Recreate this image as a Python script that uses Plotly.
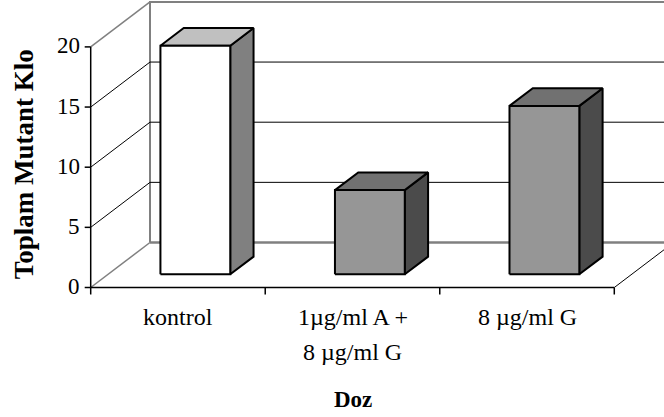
import plotly.graph_objects as go

# ---- data ----
categories = ["kontrol", "1µg/ml A +<br>8 µg/ml G", "8 µg/ml G"]
mutant_colonies = [19, 7, 14]
y_ticks = [0, 5, 10, 15, 20]
x_title = "Doz"
y_title = "Toplam Mutant Klo"

# face colours per bar: front, top, right side
front_colors = ["#FFFFFF", "#969696", "#969696"]
top_colors = ["#C0C0C0", "#717171", "#717171"]
side_colors = ["#808080", "#4B4B4B", "#4B4B4B"]

# ---- oblique 3-D geometry (in axis units) ----
W, H = 664, 417
X_PX0, X_PX_PER = 90.7, 174.53      # left front corner, pixels per category
Y_PX0, Y_PX_PER = 287.5, 12.03      # value 0 line, pixels per unit
DX, DY = 59.3 / X_PX_PER, 45.0 / Y_PX_PER   # depth offset of the back wall
BAR_W = 0.40                         # bar width (category units)
Z0, ZD = 0.293, 0.393                # bar front depth, bar depth (fractions)
YMAX = y_ticks[-1]

n = len(categories)
XL, XR = -0.5, n - 0.5
x_range = [XL - X_PX0 / X_PX_PER, XL - X_PX0 / X_PX_PER + W / X_PX_PER]
y_range = [-(H - Y_PX0) / Y_PX_PER, Y_PX0 / Y_PX_PER]

FONT = "Liberation Serif, Times New Roman, serif"
GRAY = "#808080"

fig = go.Figure()


def line(xs, ys, color="black", width=1.0):
    fig.add_trace(go.Scatter(x=xs, y=ys, mode="lines", hoverinfo="skip",
                             line=dict(color=color, width=width)))


def face(xs, ys, fill):
    fig.add_trace(go.Scatter(x=xs + xs[:1], y=ys + ys[:1], mode="lines",
                             fill="toself", fillcolor=fill, hoverinfo="skip",
                             line=dict(color="black", width=2)))


# side wall, back wall and floor frame
line([XL, XL + DX], [YMAX, YMAX + DY], GRAY, 1.5)
line([XL, XL + DX], [0, DY], GRAY, 1.5)
line([XL + DX, XL + DX, XR + DX, XR + DX], [DY, YMAX + DY, YMAX + DY, DY], GRAY, 2)
line([XL + DX, XR + DX], [DY, DY], GRAY, 2.5)

# gridlines on side wall and back wall
for v in y_ticks[1:-1]:
    line([XL, XL + DX, XR + DX], [v, v + DY, v + DY], "black", 1)

# floor front edge and right edge
line([XL, XR], [0, 0], "black", 1.5)
line([XR, XR + DX], [0, DY], "black", 1)

# value axis with ticks
line([XL, XL], [0, YMAX], "black", 1.5)
tick_dx = 6 / X_PX_PER
for v in y_ticks:
    line([XL - tick_dx, XL], [v, v], "black", 1.5)
# category ticks
tick_dy = 7 / Y_PX_PER
for k in range(n + 1):
    b = XL + k
    line([b, b], [0, -tick_dy], "black", 1.5)

# bars
zx0, zy0 = Z0 * DX, Z0 * DY
zx1, zy1 = (Z0 + ZD) * DX, (Z0 + ZD) * DY
for i, v in enumerate(mutant_colonies):
    xl, xr = i - BAR_W / 2, i + BAR_W / 2
    # right side
    face([xr + zx0, xr + zx1, xr + zx1, xr + zx0],
         [zy0, zy1, v + zy1, v + zy0], side_colors[i])
    # top
    face([xl + zx0, xr + zx0, xr + zx1, xl + zx1],
         [v + zy0, v + zy0, v + zy1, v + zy1], top_colors[i])
    # front
    face([xl + zx0, xr + zx0, xr + zx0, xl + zx0],
         [zy0, zy0, v + zy0, v + zy0], front_colors[i])

annotations = []
for v in y_ticks:
    annotations.append(dict(x=XL, y=v, xref="x", yref="y", text=str(v),
                            xanchor="right", yanchor="middle", xshift=-9, yshift=1,
                            showarrow=False, font=dict(family=FONT, size=23, color="black")))
for i, cat in enumerate(categories):
    for j, part in enumerate(cat.split("<br>")):
        annotations.append(dict(x=i, y=0, xref="x", yref="y", text=part,
                                xanchor="center", yanchor="top", yshift=-14 - 35 * j,
                                showarrow=False, font=dict(family=FONT, size=24, color="black")))
annotations.append(dict(x=(XL + XR) / 2, y=0, xref="x", yref="y", text=f"<b>{x_title}</b>",
                        xanchor="center", yanchor="middle", yshift=-112,
                        showarrow=False, font=dict(family=FONT, size=23, color="black")))
annotations.append(dict(x=24 / W, y=YMAX / 2, xref="paper", yref="y", text=f"<b>{y_title}</b>",
                        textangle=-90, xanchor="center", yanchor="middle", yshift=3,
                        showarrow=False, font=dict(family=FONT, size=27, color="black")))

fig.update_layout(
    width=W, height=H,
    margin=dict(l=0, r=0, t=0, b=0),
    paper_bgcolor="white", plot_bgcolor="white",
    showlegend=False, hovermode=False,
    xaxis=dict(range=x_range, visible=False, fixedrange=True),
    yaxis=dict(range=y_range, visible=False, fixedrange=True),
    annotations=annotations,
)

fig.write_html("out.html")
